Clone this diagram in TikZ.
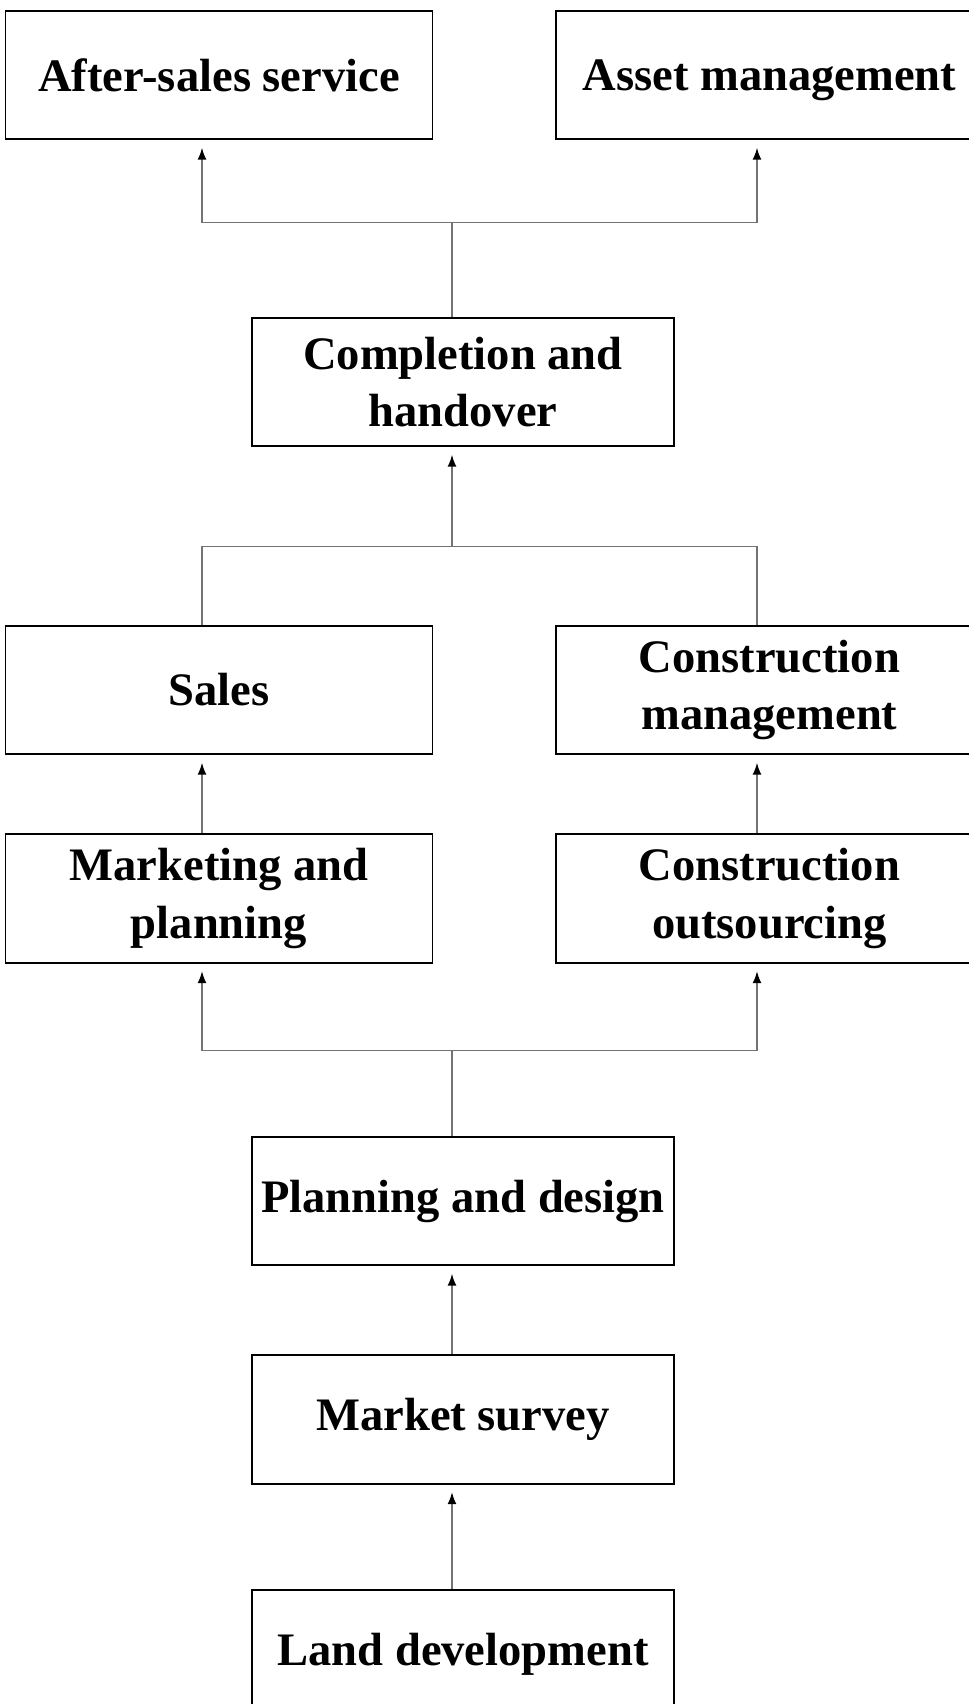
\documentclass[tikz,border=0pt]{standalone}
\usepackage{fontspec}
\setmainfont{Liberation Serif}
\usetikzlibrary{arrows.meta,positioning}

\begin{document}
\begin{tikzpicture}[
    node distance=2.43cm,
    box/.style={draw, line width=1.1pt, align=center, minimum width=8.54cm, minimum height=2.57cm, font=\fontsize{26.5}{32.5}\selectfont\bfseries},
    midbox/.style={box, minimum width=8.43cm},
    link/.style={draw=black!55, line width=0.9pt},
    arrow/.style={link, -{Latex[length=2.4mm, width=1.8mm, color=black]}, shorten >=1.5mm}
  ]
    \useasboundingbox (0,0) rectangle (19.38,-34.08);
    \clip (0,0) rectangle (19.38,-34.08);

    \node[box] (after) at (4.38,-1.50) {After-sales service};
    \node[box, text depth=0pt, right=of after] (asset) {Asset management};
    \node[midbox] (handover) at (9.26,-7.64) {Completion and\\handover};
    \node[box] (sales) at (4.38,-13.80) {Sales};
    \node[box, right=of sales] (cmgmt) {Construction\\management};
    \node[box, below=1.56cm of sales] (mkt) {Marketing and\\planning};
    \node[box, right=of mkt] (cout) {Construction\\outsourcing};
    \node[midbox] (plan) at (9.26,-24.02) {Planning and design};
    \node[midbox, below=1.76cm of plan] (survey) {Market survey};
    \node[midbox, below=2.09cm of survey] (land) {Land development};

    % columns of the connectors and the three junctions
    \coordinate (lx) at (4.04,0);
    \coordinate (rx) at (15.14,0);
    \coordinate (topj) at (9.04,-4.45);
    \coordinate (midj) at (9.04,-10.93);
    \coordinate (botj) at (9.04,-21.01);

    \draw[link] (handover.north -| topj) -- (topj);
    \draw[arrow] (topj) -| (after.south -| lx);
    \draw[arrow] (topj) -| (asset.south -| rx);

    \draw[link] (sales.north -| lx) |- (midj) -| (cmgmt.north -| rx);
    \draw[arrow] (midj) -- (handover.south -| midj);
    \draw[arrow] (mkt.north -| lx) -- (sales.south -| lx);
    \draw[arrow] (cout.north -| rx) -- (cmgmt.south -| rx);

    \draw[link] (plan.north -| botj) -- (botj);
    \draw[arrow] (botj) -| (mkt.south -| lx);
    \draw[arrow] (botj) -| (cout.south -| rx);
    \draw[arrow] (survey.north -| botj) -- (plan.south -| botj);
    \draw[arrow] (land.north -| botj) -- (survey.south -| botj);
  \end{tikzpicture}
\end{document}
